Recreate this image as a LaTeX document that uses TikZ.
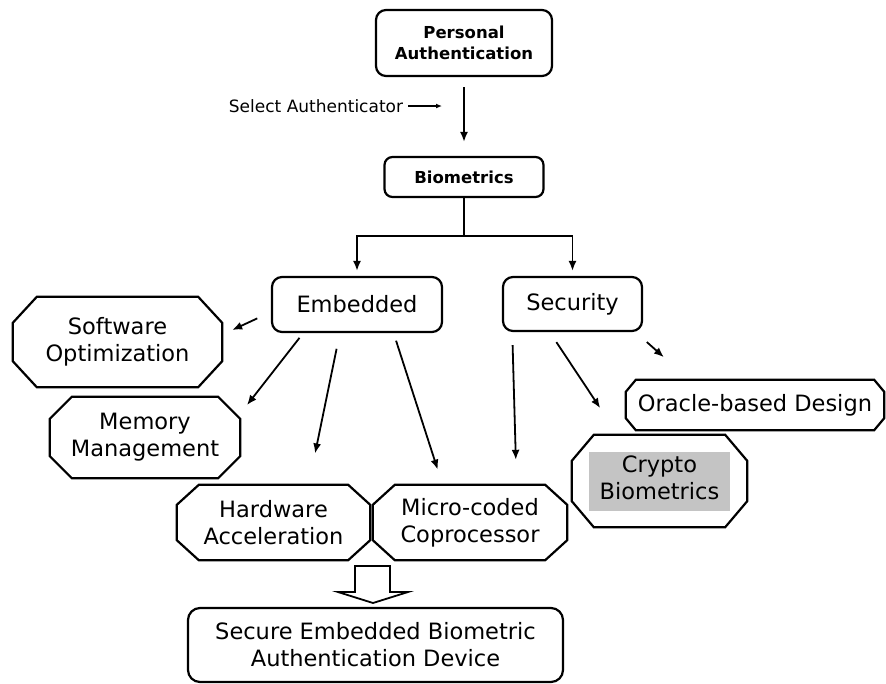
\documentclass[tikz,border=0pt]{standalone}
\usepackage{fontspec}
\setmainfont{DejaVu Sans}
\usetikzlibrary{arrows.meta}
\definecolor{cryptogray}{RGB}{196,196,196}
% octagon outline round a named node: name, corner dx, corner dy
\newcommand{\octabox}[3]{\draw[line width=2.2pt] ([xshift=#2]#1.north west) -- ([xshift=-#2]#1.north east) -- ([yshift=-#3]#1.north east) -- ([yshift=#3]#1.south east) -- ([xshift=-#2]#1.south east) -- ([xshift=#2]#1.south west) -- ([yshift=#3]#1.south west) -- ([yshift=-#3]#1.north west) -- cycle;}

\begin{document}
\begin{tikzpicture}[x=1pt,y=-1pt,>={Latex[length=10pt,width=8pt]}]
	\tikzstyle{block} = [rectangle, draw, line width=2.2pt, rounded corners=10pt, align=center, inner sep=0pt, font=\fontsize{22.5}{27}\selectfont];
	\tikzstyle{octa} = [rectangle, align=center, inner sep=0pt, font=\fontsize{22.5}{27}\selectfont];
	\tikzstyle{link} = [line width=1.8pt, ->];
	\useasboundingbox (0,0) rectangle (886,683);

	\draw node [block, minimum width=176pt, minimum height=66pt, font=\fontsize{16.5}{21}\selectfont\bfseries] (pa) at (464,43) {Personal\\Authentication};
	\draw node [font=\fontsize{17}{20}\selectfont, inner sep=0pt] (sel) at (316,106) {Select Authenticator};
	\draw node [block, minimum width=159pt, minimum height=40pt, rounded corners=8pt, font=\fontsize{16.5}{21}\selectfont\bfseries] (bio) at (464,177) {Biometrics};
	\draw node [block, minimum width=170pt, minimum height=55pt] (emb) at (357,304.5) {Embedded};
	\draw node [block, minimum width=139pt, minimum height=54pt] (sec) at (572.5,304) {Security};

	\draw node [octa, minimum width=209pt, minimum height=90pt] (soft) at (117.5,342) {Software\\Optimization};
	\draw node [octa, minimum width=190pt, minimum height=81pt] (mem) at (145,437.5) {Memory\\Management};
	\draw node [octa, minimum width=193pt, minimum height=75pt] (hw) at (273.5,522.5) {Hardware\\Acceleration};
	\draw node [octa, minimum width=194pt, minimum height=75pt] (mc) at (470,522.5) {Micro-coded\\Coprocessor};
	\draw node [octa, minimum width=258pt, minimum height=50pt] (ora) at (755,405) {Oracle-based Design};
	\draw node [octa, minimum width=175pt, minimum height=92pt] (cry) at (659.5,481) {\setlength{\fboxsep}{2.5pt}\colorbox{cryptogray}{\begin{tabular}{@{\hspace{8pt}}c@{\hspace{8pt}}}Crypto\\Biometrics\end{tabular}}};
	\draw node [block, minimum width=375pt, minimum height=74pt, rounded corners=12pt] (sed) at (375.5,645) {Secure Embedded Biometric\\Authentication Device};

	\octabox{soft}{24pt}{26pt}
	\octabox{mem}{22pt}{22pt}
	\octabox{hw}{22pt}{20pt}
	\octabox{mc}{22pt}{20pt}
	\octabox{ora}{10pt}{12pt}
	\octabox{cry}{22pt}{26pt}

	% top of the tree
	\coordinate (pick) at (pa.south |- sel.east);
	\draw [link, >={Latex[length=6pt,width=5pt]}, line width=1.2pt, shorten <=5pt, shorten >=22pt] (sel.east) -- (pick);
	\draw [link, shorten <=10pt, shorten >=14pt] (pa) -- (bio);
	\draw [link, shorten >=5pt] (bio.south) -- ++(0,38) -| (emb.north);
	\draw [link, shorten >=5pt] (bio.south) -- ++(0,38) -| (sec.north);

	% embedded side
	\draw [link, shorten <=15pt, shorten >=11pt] (emb.185) -- (soft.4);
	\draw [link, shorten <=6pt, shorten >=11pt] (emb.208) -- (mem.14);
	\draw [link, shorten <=16pt, shorten >=32pt] (emb.239) -- (hw.47);
	\draw [link, shorten <=8pt, shorten >=16pt] (emb.322) -- (mc.126);

	% security side
	\draw [link, shorten <=13pt, shorten >=25pt] (sec.205.5) -- (mc.39);
	\draw [link, shorten <=12pt, shorten >=32pt] (sec.231) -- (cry.132.5);
	\draw [link, shorten <=15pt, shorten >=34pt] (sec.336) -- (ora.159);

	% hollow arrow to the device
	\draw [line width=1.8pt, fill=white] (355,566) -- (390,566) -- (390,592) -- (408,592) -- (373,603) -- (338,592) -- (355,592) -- cycle;
\end{tikzpicture}
\end{document}
